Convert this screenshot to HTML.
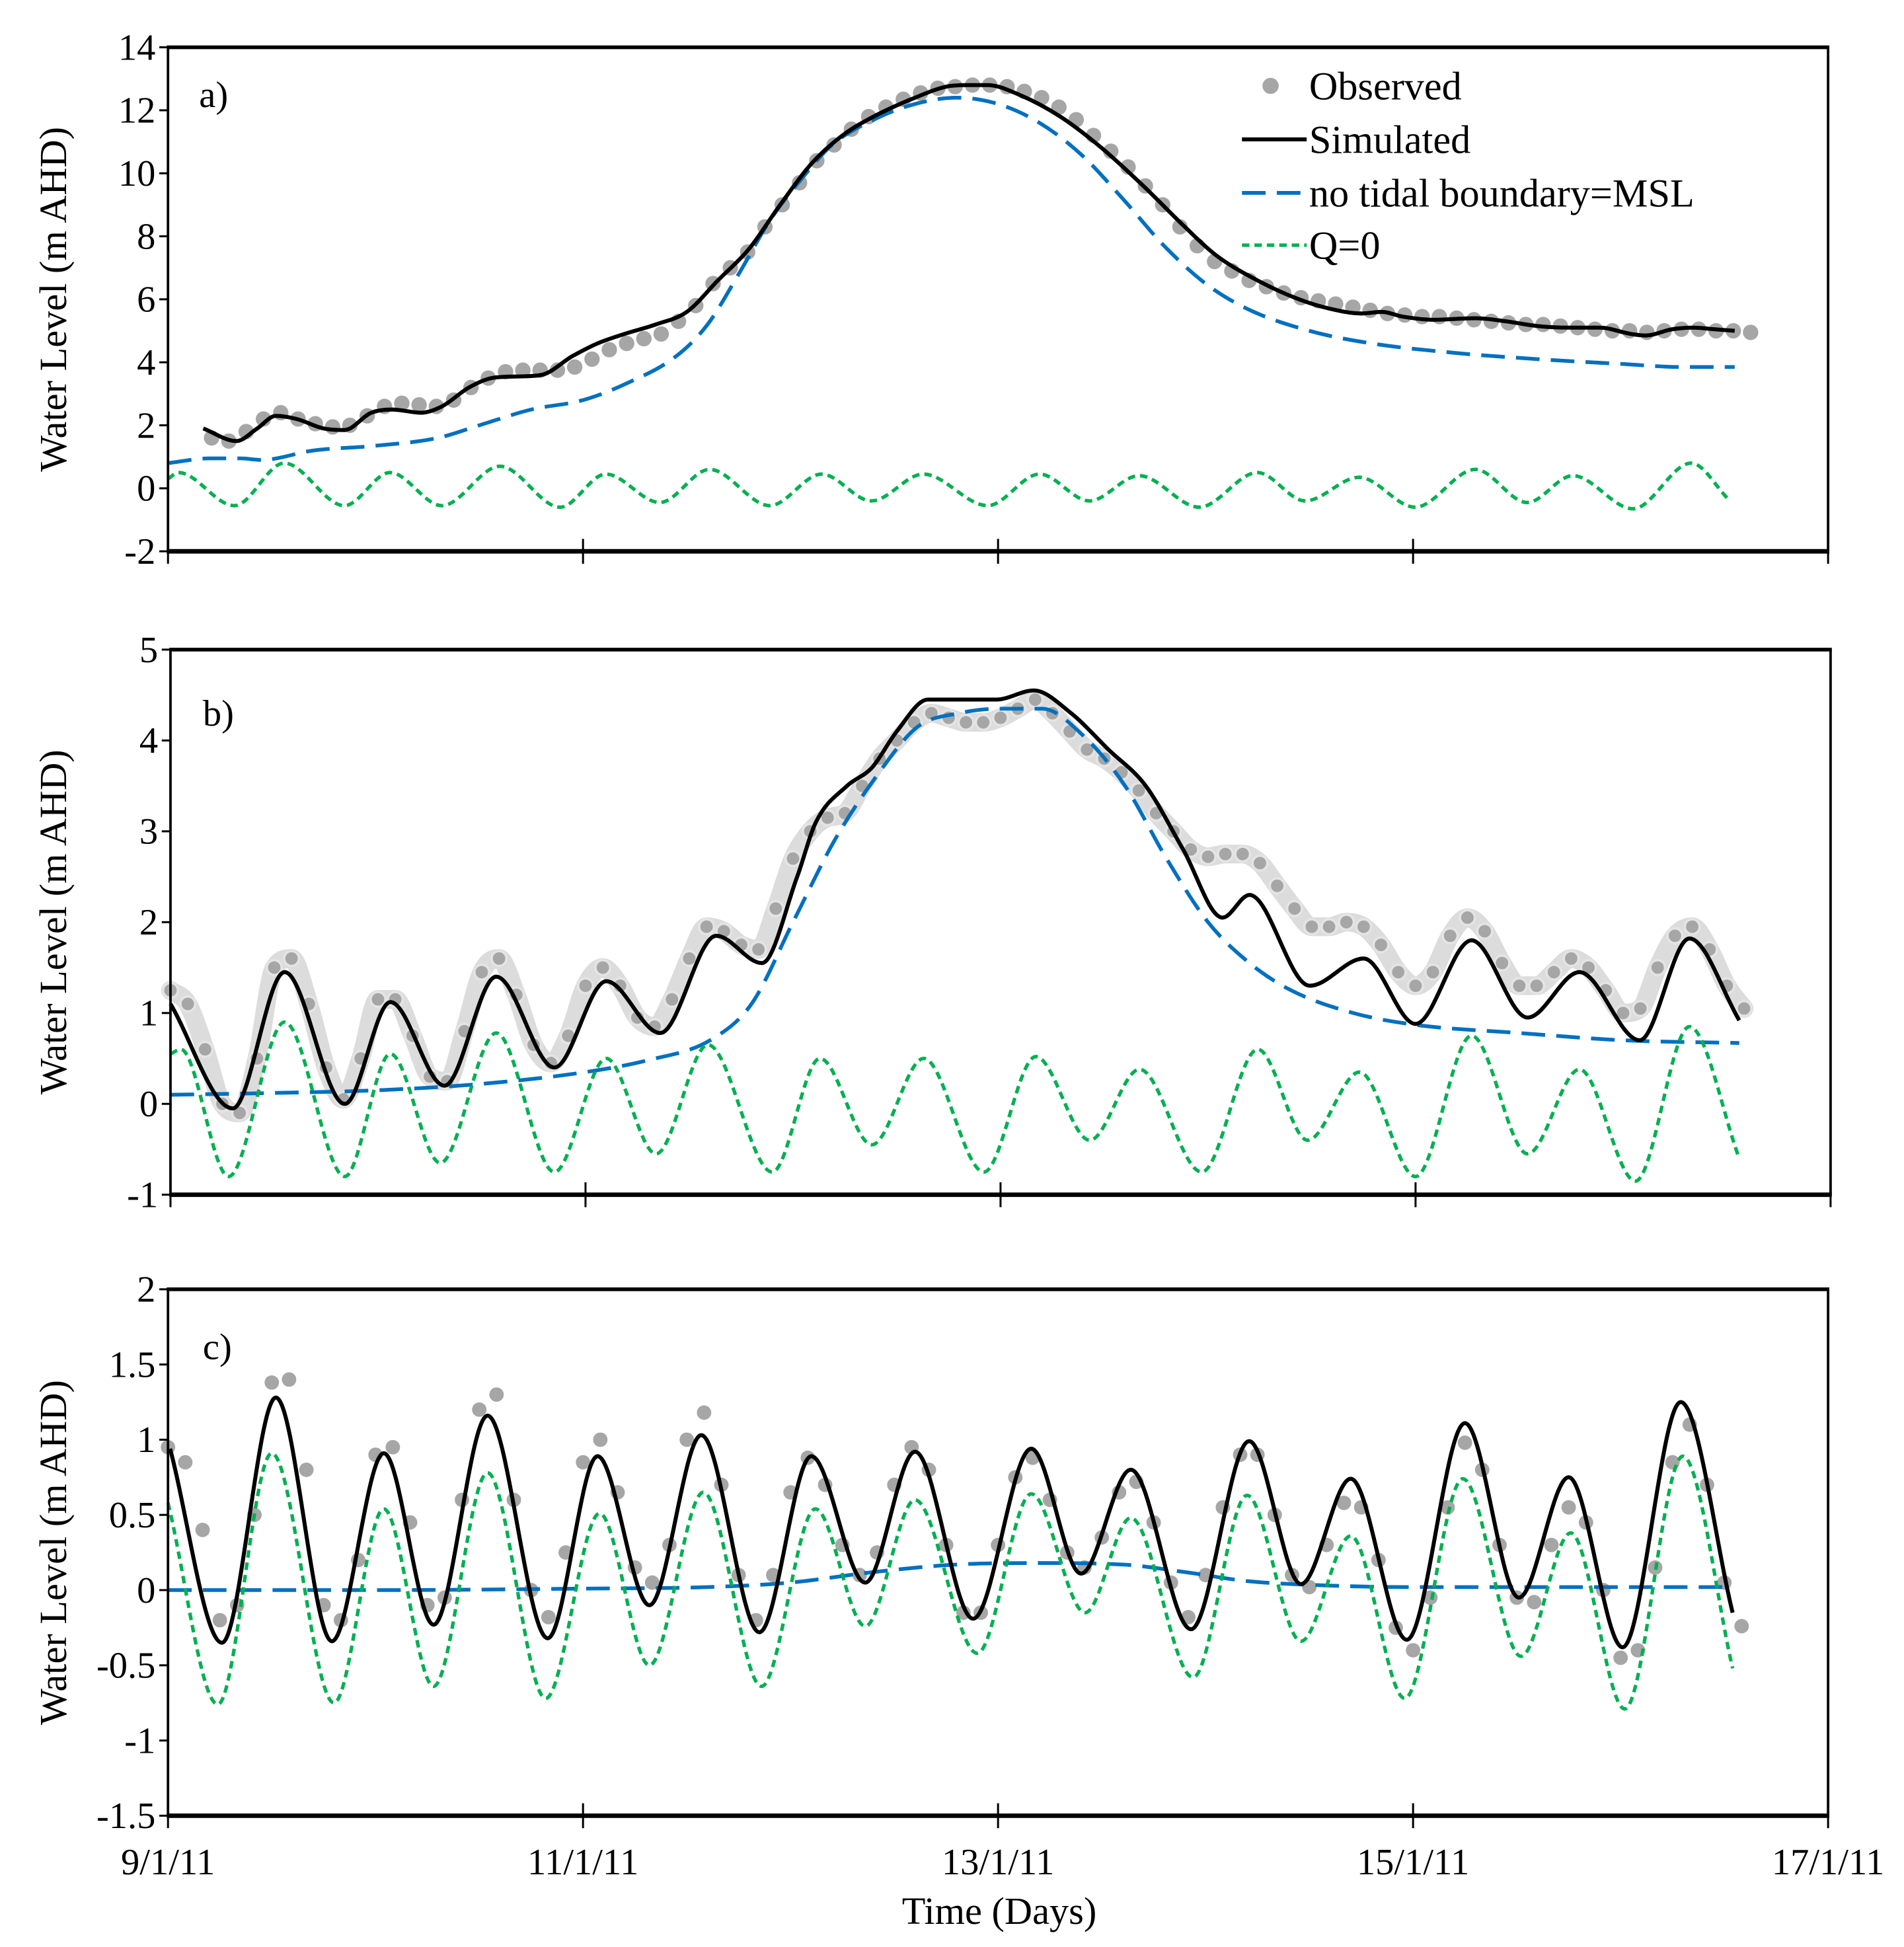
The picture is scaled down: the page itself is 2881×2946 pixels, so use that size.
<!DOCTYPE html>
<html><head><meta charset="utf-8"><style>
html,body{margin:0;padding:0;background:#fff;}
svg{display:block;font-family:"Liberation Serif","Times New Roman",serif;}
</style></head><body>
<svg id="chart" xmlns="http://www.w3.org/2000/svg" width="2881" height="2946" viewBox="0 0 1530 1564.5" preserveAspectRatio="none">
<rect x="0" y="0" width="1530" height="1564.5" fill="#fff"/>
</svg>
<script>
// ---------- Data (time in days since 9/1/11) ----------
const xTickLabels = ["9/1/11","11/1/11","13/1/11","15/1/11","17/1/11"];
const xTickDays = [0,2,4,6,8];

// Panel a
const aTicks = [14,12,10,8,6,4,2,0,-2];
const aObsStart = 0.21, aObsStep = 1/12;
const aObs = [1.6,1.5,1.8,2.2,2.4,2.2,2.05,1.95,2.0,2.3,2.6,2.7,2.65,2.6,2.8,3.2,3.5,3.7,3.75,3.75,3.75,3.85,4.1,4.4,4.6,4.75,4.9,5.3,5.8,6.5,7.0,7.5,8.3,9.0,9.7,10.4,10.9,11.4,11.8,12.1,12.35,12.55,12.7,12.75,12.8,12.8,12.75,12.6,12.4,12.1,11.7,11.2,10.7,10.2,9.6,9.0,8.3,7.7,7.2,6.9,6.6,6.4,6.2,6.05,5.95,5.85,5.75,5.65,5.55,5.5,5.45,5.45,5.4,5.35,5.3,5.25,5.2,5.2,5.15,5.1,5.05,5.0,5.0,4.95,5.0,5.05,5.05,5.0,5.0,4.95];
const aSimT = [0.17,0.33,0.43,0.52,0.62,0.75,0.85,0.98,1.08,1.22,1.32,1.45,1.56,1.68,1.8,1.95,2.07,2.2,2.35,2.5,2.65,2.8,2.95,3.1,3.25,3.4,3.6,3.75,3.85,3.95,4.1,4.3,4.5,4.7,4.9,5.05,5.25,5.45,5.6,5.75,5.85,5.95,6.1,6.3,6.45,6.6,6.75,6.9,7.05,7.12,7.25,7.35,7.45,7.55];
const aSimV = [1.9,1.5,1.9,2.3,2.2,1.9,1.85,2.4,2.5,2.4,2.6,3.2,3.5,3.55,3.6,4.2,4.6,4.9,5.2,5.6,6.6,7.6,9.0,10.3,11.2,11.8,12.4,12.75,12.8,12.8,12.5,11.8,10.8,9.6,8.3,7.4,6.6,6.0,5.7,5.55,5.6,5.45,5.35,5.4,5.3,5.15,5.1,5.1,4.9,4.85,5.05,5.1,5.05,5.0];
const aNtbT = [0,0.2,0.35,0.45,0.7,1.0,1.3,1.5,1.75,2.0,2.2,2.45,2.6,2.75,2.9,3.05,3.2,3.4,3.6,3.8,4.0,4.2,4.4,4.6,4.8,5.0,5.2,5.5,5.8,6.2,6.6,7.0,7.3,7.55];
const aNtbV = [0.8,0.95,0.95,0.9,1.2,1.35,1.6,2.0,2.5,2.8,3.3,4.2,5.2,6.8,8.5,9.8,10.9,11.7,12.2,12.4,12.2,11.6,10.6,9.2,7.7,6.5,5.7,5.0,4.6,4.3,4.1,3.95,3.85,3.85];
const aQ0T = [0,0.05,0.32,0.56,0.85,1.07,1.32,1.6,1.89,2.11,2.37,2.61,2.9,3.15,3.39,3.64,3.95,4.2,4.44,4.68,4.97,5.25,5.48,5.74,6.01,6.3,6.55,6.77,7.06,7.34,7.52];
const aQ0V = [0.3,0.5,-0.55,0.8,-0.55,0.5,-0.55,0.7,-0.6,0.45,-0.45,0.6,-0.55,0.45,-0.4,0.45,-0.55,0.45,-0.4,0.4,-0.6,0.5,-0.4,0.35,-0.6,0.6,-0.45,0.4,-0.65,0.8,-0.35];

// Panel b
const bTicks = [5,4,3,2,1,0,-1];
const bObsStart = 0, bObsStep = 1/12;
const bObs = [1.25,1.1,0.6,0.0,-0.1,0.5,1.5,1.6,1.1,0.4,0.05,0.5,1.15,1.15,0.75,0.3,0.25,0.8,1.45,1.6,1.2,0.65,0.45,0.75,1.3,1.5,1.3,0.95,0.85,1.15,1.6,1.95,1.9,1.75,1.7,2.15,2.7,3.0,3.15,3.2,3.5,3.8,4.0,4.2,4.3,4.25,4.2,4.2,4.25,4.35,4.45,4.3,4.1,3.9,3.8,3.65,3.45,3.2,3.0,2.8,2.72,2.75,2.75,2.65,2.4,2.15,1.95,1.95,2.0,1.95,1.75,1.45,1.3,1.45,1.85,2.05,1.9,1.55,1.3,1.3,1.45,1.6,1.5,1.25,1.0,1.05,1.5,1.85,1.95,1.7,1.3,1.05];
const bSimT = [0,0.3,0.55,0.84,1.06,1.32,1.57,1.85,2.1,2.36,2.63,2.85,3.02,3.11,3.26,3.38,3.5,3.65,3.8,3.98,4.16,4.34,4.52,4.7,4.88,5.07,5.2,5.49,5.75,6.0,6.27,6.54,6.79,7.08,7.32,7.56];
const bSimV = [1.1,-0.05,1.45,0.0,1.12,0.2,1.4,0.4,1.35,0.78,1.85,1.55,2.5,3.1,3.5,3.7,4.1,4.45,4.45,4.45,4.55,4.3,3.9,3.5,2.8,2.05,2.3,1.3,1.6,0.88,1.8,0.95,1.45,0.7,1.82,0.92];
const bNtbT = [0,0.5,1,1.5,2,2.3,2.6,2.8,3.0,3.2,3.4,3.6,3.8,4.0,4.2,4.4,4.6,4.8,5.0,5.2,5.4,5.7,6.0,6.5,7.0,7.56];
const bNtbV = [0.1,0.12,0.15,0.22,0.35,0.48,0.7,1.1,2.0,2.9,3.6,4.15,4.3,4.35,4.35,4.05,3.5,2.7,2.0,1.55,1.25,1.0,0.87,0.78,0.7,0.67];
const bQ0T = [0,0.05,0.28,0.55,0.84,1.06,1.3,1.57,1.85,2.1,2.34,2.59,2.9,3.13,3.38,3.63,3.92,4.17,4.43,4.67,4.97,5.24,5.48,5.73,6.0,6.27,6.54,6.79,7.06,7.32,7.56];
const bQ0V = [0.55,0.6,-0.8,0.9,-0.8,0.55,-0.65,0.78,-0.75,0.5,-0.55,0.65,-0.75,0.5,-0.45,0.5,-0.75,0.52,-0.4,0.38,-0.75,0.6,-0.4,0.35,-0.8,0.75,-0.55,0.38,-0.85,0.85,-0.6];

// Panel c
const cTicks = [2,1.5,1,0.5,0,-0.5,-1,-1.5];
const cTickLabels = ["2","1.5","1","0.5","0","-0.5","-1","-1.5"];
const cObsStart = 0, cObsStep = 1/12;
const cObs = [0.95,0.85,0.4,-0.2,-0.1,0.5,1.38,1.4,0.8,-0.1,-0.2,0.2,0.9,0.95,0.45,-0.1,-0.05,0.6,1.2,1.3,0.6,0.0,-0.18,0.25,0.85,1.0,0.65,0.15,0.05,0.3,1.0,1.18,0.7,0.1,-0.2,0.1,0.65,0.88,0.7,0.3,0.1,0.25,0.7,0.95,0.8,0.3,-0.15,-0.15,0.3,0.75,0.88,0.6,0.25,0.15,0.35,0.65,0.72,0.45,0.05,-0.18,0.1,0.55,0.9,0.9,0.5,0.1,0.02,0.3,0.58,0.55,0.2,-0.25,-0.4,-0.05,0.55,0.98,0.8,0.3,-0.05,-0.08,0.3,0.55,0.45,0.0,-0.45,-0.4,0.15,0.85,1.1,0.7,0.05,-0.24];
const cSimT = [0.01,0.26,0.52,0.79,1.04,1.28,1.54,1.83,2.07,2.32,2.57,2.85,3.10,3.36,3.60,3.88,4.16,4.40,4.64,4.93,5.21,5.46,5.70,5.97,6.25,6.51,6.75,7.01,7.29,7.54];
const cSimV = [0.94,-0.35,1.28,-0.34,0.91,-0.23,1.16,-0.32,0.89,-0.1,1.03,-0.28,0.89,0.05,0.92,-0.19,0.94,0.11,0.8,-0.26,0.99,0.04,0.74,-0.33,1.11,-0.05,0.75,-0.38,1.25,-0.15];
const cNtbT = [0,1,2,2.6,3.0,3.4,3.8,4.2,4.6,4.9,5.2,5.6,6.0,7.0,7.54];
const cNtbV = [0.0,0.0,0.01,0.02,0.05,0.12,0.17,0.18,0.17,0.12,0.06,0.03,0.02,0.02,0.02];
const cQ0T = [0,0.24,0.5,0.8,1.04,1.28,1.54,1.82,2.08,2.32,2.58,2.86,3.12,3.36,3.6,3.9,4.16,4.42,4.64,4.94,5.2,5.46,5.7,5.96,6.24,6.52,6.76,7.02,7.3,7.54];
const cQ0V = [0.58,-0.76,0.91,-0.75,0.54,-0.64,0.78,-0.72,0.51,-0.5,0.65,-0.64,0.54,-0.24,0.6,-0.42,0.64,-0.15,0.48,-0.58,0.63,-0.34,0.36,-0.72,0.74,-0.44,0.38,-0.79,0.89,-0.52];

// ---------- Rendering ----------
const NS = "http://www.w3.org/2000/svg";
const svg = document.getElementById("chart");
function mk(tag, attrs, parent){
  const e = document.createElementNS(NS, tag);
  for (const k in attrs) e.setAttribute(k, attrs[k]);
  (parent||svg).appendChild(e);
  return e;
}
function monotonePath(xs, ys){
  const n = xs.length; if (n<2) return "";
  const d=[], m=new Array(n);
  for(let i=0;i<n-1;i++) d.push((ys[i+1]-ys[i])/(xs[i+1]-xs[i]));
  m[0]=d[0]; m[n-1]=d[n-2];
  for(let i=1;i<n-1;i++){ m[i] = (d[i-1]*d[i]<=0)?0:(d[i-1]+d[i])/2; }
  for(let i=0;i<n-1;i++){
    if(d[i]===0){m[i]=0;m[i+1]=0;continue;}
    const a=m[i]/d[i], b=m[i+1]/d[i], s=a*a+b*b;
    if(s>9){const t=3/Math.sqrt(s); m[i]=t*a*d[i]; m[i+1]=t*b*d[i];}
  }
  let p = "M"+xs[0].toFixed(2)+","+ys[0].toFixed(2);
  for(let i=0;i<n-1;i++){
    const h=(xs[i+1]-xs[i])/3;
    p += " C"+(xs[i]+h).toFixed(2)+","+(ys[i]+m[i]*h).toFixed(2)+" "+(xs[i+1]-h).toFixed(2)+","+(ys[i+1]-m[i+1]*h).toFixed(2)+" "+xs[i+1].toFixed(2)+","+ys[i+1].toFixed(2);
  }
  return p;
}

const panels = [
  {id:"a", x0:135, x1:1469, y0:38, y1:443, vmin:-2, vmax:14, ticks:aTicks, tickLabels:aTicks.map(String), label:"a)", lx:160, ly:86,
   obsStart:aObsStart, obsStep:aObsStep, obs:aObs, obsR:6.2, band:false,
   simT:aSimT, simV:aSimV, ntbT:aNtbT, ntbV:aNtbV, q0T:aQ0T, q0V:aQ0V, xLabels:false},
  {id:"b", x0:137, x1:1471, y0:522, y1:960, vmin:-1, vmax:5, ticks:bTicks, tickLabels:bTicks.map(String), label:"b)", lx:163, ly:583,
   obsStart:bObsStart, obsStep:bObsStep, obs:bObs, obsR:6, band:true,
   simT:bSimT, simV:bSimV, ntbT:bNtbT, ntbV:bNtbV, q0T:bQ0T, q0V:bQ0V, xLabels:false},
  {id:"c", x0:135, x1:1469, y0:1036, y1:1459, vmin:-1.5, vmax:2, ticks:cTicks, tickLabels:cTickLabels, label:"c)", lx:163, ly:1092,
   obsStart:cObsStart, obsStep:cObsStep, obs:cObs, obsR:5.8, band:false,
   simT:cSimT, simV:cSimV, ntbT:cNtbT, ntbV:cNtbV, q0T:cQ0T, q0V:cQ0V, xLabels:true}
];

panels.forEach(P=>{
  const g = mk("g",{});
  
  
  const xs = t => P.x0 + (t-0)/(8-0)*(P.x1-P.x0);
  const ys = v => P.y1 - (v-P.vmin)/(P.vmax-P.vmin)*(P.y1-P.y0);

  const og = mk("g",{},g);
  
  
  const ox = P.obs.map((v,i)=>xs(P.obsStart+i*P.obsStep));
  const oy = P.obs.map(v=>ys(v));
  if (P.band){
    const band = mk("path",{d:monotonePath(ox,oy),fill:"none",stroke:"#dcdcdc","stroke-width":15,"stroke-linejoin":"round","stroke-linecap":"round"},og);
    
    
  }
  P.obs.forEach((v,i)=>{
    const c = mk("circle",{cx:ox[i].toFixed(2),cy:oy[i].toFixed(2),r:P.obsR,fill:"#a6a6a6"},og);
    if (P.band){ c.setAttribute("stroke","#e4e4e4"); c.setAttribute("stroke-width","2"); }
    
    
  });

  const nb = mk("path",{d:monotonePath(P.ntbT.map(xs),P.ntbV.map(ys)),fill:"none",stroke:"#0070c0","stroke-width":3,"stroke-dasharray":"19 9"},g);
  
  
  const q = mk("path",{d:monotonePath(P.q0T.map(xs),P.q0V.map(ys)),fill:"none",stroke:"#00b050","stroke-width":2.8,"stroke-dasharray":"6 4"},g);
  
  
  const s = mk("path",{d:monotonePath(P.simT.map(xs),P.simV.map(ys)),fill:"none",stroke:"#000","stroke-width":3.2,"stroke-linejoin":"round"},g);
  
  

  const fr = mk("g",{},g);
  
  
  mk("line",{x1:P.x0,y1:P.y0,x2:P.x0,y2:P.y1,stroke:"#000","stroke-width":2},fr);
  mk("line",{x1:P.x1,y1:P.y0,x2:P.x1,y2:P.y1,stroke:"#000","stroke-width":2},fr);
  mk("line",{x1:P.x0-1,y1:P.y0,x2:P.x1+1,y2:P.y0,stroke:"#000","stroke-width":3},fr);
  mk("line",{x1:P.x0-1,y1:P.y1,x2:P.x1+1,y2:P.y1,stroke:"#000","stroke-width":3.6},fr);

  const ya = mk("g",{},g);
  
  
  P.ticks.forEach((v,i)=>{
    const y = ys(v);
    mk("line",{x1:P.x0-7,y1:y,x2:P.x0,y2:y,stroke:"#000","stroke-width":1.6},ya);
    const t = mk("text",{x:P.x0-10,y:y+10,"text-anchor":"end","font-size":30,fill:"#000"},ya);
    t.textContent = P.tickLabels[i];
    
    
  });
  const xa = mk("g",{},g);
  
  
  xTickDays.forEach((d,i)=>{
    const x = xs(d);
    mk("line",{x1:x,y1:P.y1-10,x2:x,y2:P.y1+10,stroke:"#000","stroke-width":1.6},xa);
    if (P.xLabels){
      const t = mk("text",{x:x,y:P.y1+47,"text-anchor":"middle","font-size":30,fill:"#000"},xa);
      t.textContent = xTickLabels[i];
      
      
    }
  });
  const cy = (P.y0+P.y1)/2;
  const yt = mk("text",{x:0,y:0,transform:"translate(53,"+cy+") rotate(-90)","text-anchor":"middle","font-size":31,fill:"#000"},g);
  yt.textContent = "Water Level (m AHD)";
  
  
  const pl = mk("text",{x:P.lx,y:P.ly,"font-size":30,fill:"#000"},g);
  pl.textContent = P.label;
  
  
});

const xt = mk("text",{x:803,y:1546,"text-anchor":"middle","font-size":31,fill:"#000"});
xt.textContent = "Time (Days)";



const lg = mk("g",{});


const legendNames = ["Observed","Simulated","no tidal boundary=MSL","Q=0"];
const legendY = [69,112,155,197];
legendNames.forEach((n,i)=>{
  const e = mk("g",{},lg);
  
  
  const y = legendY[i];
  if (i===0) mk("circle",{cx:1021,cy:y,r:6.5,fill:"#a6a6a6"},e);
  if (i===1) mk("line",{x1:998,y1:y,x2:1050,y2:y,stroke:"#000","stroke-width":3.2},e);
  if (i===2) mk("line",{x1:998,y1:y,x2:1050,y2:y,stroke:"#0070c0","stroke-width":3,"stroke-dasharray":"19 9"},e);
  if (i===3) mk("line",{x1:998,y1:y,x2:1050,y2:y,stroke:"#00b050","stroke-width":2.8,"stroke-dasharray":"6 4"},e);
  const t = mk("text",{x:1052,y:y+11,"font-size":32,fill:"#000"},e);
  t.textContent = n;
});
</script>
</body></html>
